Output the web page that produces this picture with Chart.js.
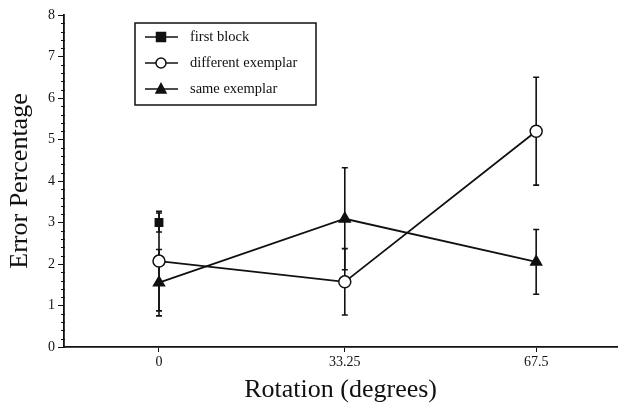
<!DOCTYPE html>
<html>
<head>
<meta charset="utf-8">
<script src="https://cdn.jsdelivr.net/npm/chart.js@4"></script>
<style>
  html, body { margin: 0; padding: 0; background: #fff; }
  #wrap { width: 625px; height: 407px; }
</style>
</head>
<body>
<div id="wrap"><canvas id="chart" width="625" height="407"></canvas></div>
<script>
// rotation conditions (x ticks)
const rotations = [0, 33.25, 67.5];

// first block: only measured at 0 deg
const firstBlockX = [0];
const firstBlock = [3.0];
const firstBlockErr = [0.23];

const differentExemplar = [2.07, 1.57, 5.2];
const differentErr = [1.2, 0.8, 1.3];

const sameExemplar = [1.55, 3.09, 2.05];
const sameErr = [0.8, 1.23, 0.78];

const yTicks = [0, 1, 2, 3, 4, 5, 6, 7, 8];

function toPoints(xs, ys) {
  return ys.map((y, i) => ({ x: xs[i], y: y }));
}

const serif = "'Liberation Serif', 'DejaVu Serif', serif";

// error bars drawn from the arrays above
const errorBars = {
  id: "errorBars",
  beforeDatasetsDraw(chart) {
    const ctx = chart.ctx;
    const xs = chart.scales.x, ys = chart.scales.y;
    const sets = [
      [firstBlockX, firstBlock, firstBlockErr],
      [rotations, differentExemplar, differentErr],
      [rotations, sameExemplar, sameErr],
    ];
    ctx.save();
    ctx.strokeStyle = "#111";
    ctx.lineWidth = 1.6;
    sets.forEach(([xv, yv, ev]) => {
      yv.forEach((v, i) => {
        const px = xs.getPixelForValue(xv[i]);
        const top = ys.getPixelForValue(v + ev[i]);
        const bot = ys.getPixelForValue(v - ev[i]);
        ctx.beginPath();
        ctx.moveTo(px, top); ctx.lineTo(px, bot);
        ctx.moveTo(px - 3, top); ctx.lineTo(px + 3, top);
        ctx.moveTo(px - 3, bot); ctx.lineTo(px + 3, bot);
        ctx.stroke();
      });
    });
    ctx.restore();
  },
};

// minor ticks on the y axis
const minorTicks = {
  id: "minorTicks",
  afterDraw(chart) {
    const ctx = chart.ctx;
    const ys = chart.scales.y;
    const left = chart.chartArea.left;
    ctx.save();
    ctx.strokeStyle = "#111";
    ctx.lineWidth = 1;
    for (let i = 0; i <= 40; i++) {
      if (i % 5 === 0) continue;
      const py = Math.round(ys.getPixelForValue(i * 0.2)) + 0.5;
      ctx.beginPath();
      ctx.moveTo(left - 3, py);
      ctx.lineTo(left + 1, py);
      ctx.stroke();
    }
    ctx.restore();
  },
};

// boxed legend inside the plot
const boxLegend = {
  id: "boxLegend",
  afterDraw(chart) {
    const ctx = chart.ctx;
    const x0 = 135, y0 = 23, w = 181, h = 82;
    ctx.save();
    ctx.fillStyle = "#fff";
    ctx.fillRect(x0, y0, w, h);
    ctx.strokeStyle = "#111";
    ctx.lineWidth = 1.5;
    ctx.strokeRect(x0, y0, w, h);
    ctx.font = "14.5px " + serif;
    ctx.textBaseline = "middle";
    chart.data.datasets.forEach((ds, i) => {
      const cy = y0 + 14 + i * 26;
      ctx.beginPath();
      ctx.moveTo(x0 + 10, cy);
      ctx.lineTo(x0 + 43, cy);
      ctx.lineWidth = 1.5;
      ctx.stroke();
      const mx = x0 + 26;
      ctx.fillStyle = ds.pointBackgroundColor;
      ctx.beginPath();
      if (ds.pointStyle === "rect") {
        ctx.rect(mx - 4.5, cy - 4.5, 9, 9);
      } else if (ds.pointStyle === "triangle") {
        ctx.moveTo(mx, cy - 5.5); ctx.lineTo(mx + 5, cy + 4); ctx.lineTo(mx - 5, cy + 4); ctx.closePath();
      } else {
        ctx.arc(mx, cy, 5, 0, Math.PI * 2);
      }
      ctx.fill();
      ctx.stroke();
      ctx.fillStyle = "#111";
      ctx.fillText(ds.label, x0 + 55, cy);
    });
    ctx.restore();
  },
};

new Chart(document.getElementById("chart").getContext("2d"), {
  type: "line",
  data: {
    datasets: [
      {
        label: "first block",
        data: toPoints(firstBlockX, firstBlock),
        borderColor: "#111",
        pointStyle: "rect",
        pointRadius: 5,
        pointBackgroundColor: "#111",
        pointBorderColor: "#111",
        borderWidth: 1.8,
      },
      {
        label: "different exemplar",
        data: toPoints(rotations, differentExemplar),
        borderColor: "#111",
        pointStyle: "circle",
        pointRadius: 6,
        pointBackgroundColor: "#fff",
        pointBorderColor: "#111",
        pointBorderWidth: 1.5,
        borderWidth: 1.8,
      },
      {
        label: "same exemplar",
        data: toPoints(rotations, sameExemplar),
        borderColor: "#111",
        pointStyle: "triangle",
        pointRadius: 6,
        pointBackgroundColor: "#111",
        pointBorderColor: "#111",
        borderWidth: 1.8,
      },
    ],
  },
  options: {
    responsive: false,
    animation: false,
    layout: { padding: { top: 15, right: 5, left: 0, bottom: 0 } },
    plugins: {
      legend: { display: false },
      tooltip: { enabled: false },
    },
    scales: {
      x: {
        type: "linear",
        min: -17,
        max: 82,
        afterBuildTicks: (scale) => { scale.ticks = rotations.map((v) => ({ value: v })); },
        afterFit: (scale) => { scale.height = 60; },
        grid: { drawOnChartArea: false, tickLength: 5, color: "#111" },
        border: { color: "#111", width: 1.8 },
        ticks: {
          color: "#111",
          font: { family: serif, size: 14 },
          padding: 2,
          callback: (v) => String(v),
        },
        title: {
          display: true,
          text: "Rotation (degrees)",
          color: "#111",
          font: { family: serif, size: 26 },
          padding: { top: 2, bottom: 1 },
        },
      },
      y: {
        min: 0,
        max: 8,
        afterBuildTicks: (scale) => { scale.ticks = yTicks.map((v) => ({ value: v })); },
        afterFit: (scale) => { scale.width = 64; },
        grid: { drawOnChartArea: false, tickLength: 6, color: "#111" },
        border: { color: "#111", width: 1.8 },
        ticks: {
          color: "#111",
          font: { family: serif, size: 14 },
          padding: 3,
        },
        title: {
          display: true,
          text: "Error Percentage",
          color: "#111",
          font: { family: serif, size: 26 },
          padding: { top: 5, bottom: 4 },
        },
      },
    },
  },
  plugins: [errorBars, minorTicks, boxLegend],
});
</script>
</body>
</html>
